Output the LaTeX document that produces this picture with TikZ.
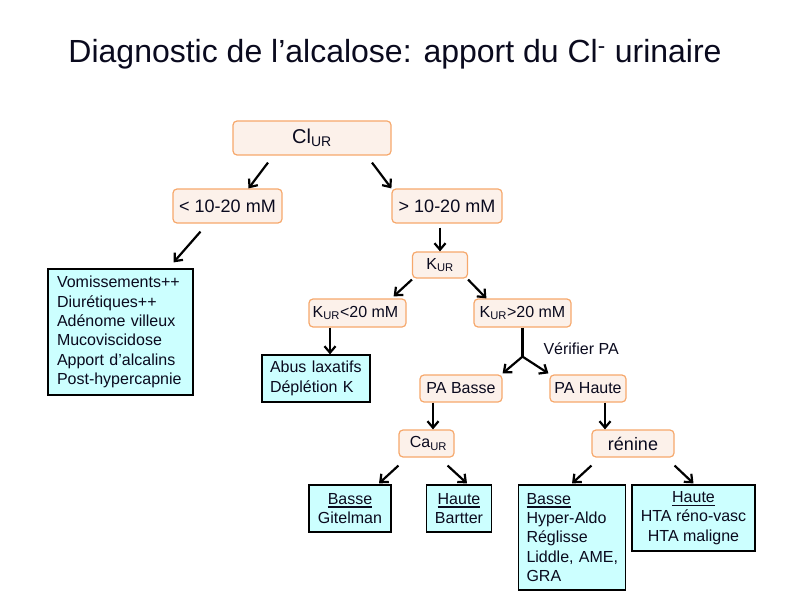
\documentclass[tikz,border=0pt]{standalone}
\usepackage{fontspec}
\setmainfont{Liberation Sans}
\usetikzlibrary{arrows.meta}
\definecolor{boxline}{HTML}{F6A86C}
\definecolor{boxfill}{HTML}{FCF1EA}
\definecolor{leaffill}{HTML}{CCFFFF}
\definecolor{ink}{HTML}{0A0A1E}
\newcommand{\ur}{\textsubscript{UR}}
% heading of an outcome box, with a heavy underline
\newcommand{\heading}[1]{\leavevmode\vtop{\hbox{#1}\kern2pt\hrule height 1.6pt}}
\begin{document}
\begin{tikzpicture}[x=1pt,y=-1pt, text=ink,
  test/.style={draw=boxline, fill=boxfill, rounded corners=4pt, line width=1.2pt,
    inner sep=0pt, font=\fontsize{16}{19}\selectfont},
  leaf/.style={draw=black, fill=leaffill, line width=1.2pt, inner sep=0pt,
    font=\fontsize{16}{19.4}\selectfont},
  arr/.style={-{Straight Barb[length=6.5pt,width=11pt]}, line width=2.2pt},
  link/.style={line width=2.2pt}]
\useasboundingbox (0,0) rectangle (805,604);

% title
\node (title) at (395,54) {\fontsize{32}{38}\selectfont Diagnostic de l’alcalose: apport du Cl\textsuperscript{-} urinaire};

% decision boxes
\node[test, minimum width=158pt, minimum height=34pt, font=\fontsize{20}{24}\selectfont] (clur) at (312,138) {Cl\ur};
\node[test, minimum width=109pt, minimum height=34pt, font=\fontsize{18}{22}\selectfont] (lt) at (227.5,206) {< 10-20 mM};
\node[test, minimum width=110pt, minimum height=34pt, font=\fontsize{18}{22}\selectfont] (gt) at (447,206) {> 10-20 mM};
\node[test, minimum width=55pt, minimum height=26pt] (kur) at (440,265) {K\ur};
\node[test, minimum width=97pt, minimum height=28pt] (kurlt) at (357.5,313) {K\ur<20 mM\hspace*{4pt}};
\node[test, minimum width=97pt, minimum height=28pt] (kurgt) at (522.5,313) {K\ur>20 mM};
\node[test, minimum width=82pt, minimum height=27pt] (pab) at (461,388.5) {PA Basse};
\node[test, minimum width=76pt, minimum height=27pt] (pah) at (588,388.5) {PA Haute};
\node[test, minimum width=55pt, minimum height=27pt] (caur) at (426.5,443.5) {\hspace*{4pt}Ca\ur};
\node[test, minimum width=82pt, minimum height=27pt, font=\fontsize{18}{22}\selectfont] (renine) at (633,443.5) {rénine};

% outcome boxes
\node[leaf, minimum width=145pt, minimum height=126pt, text width=127pt, align=left] (causes) at (120.5,332)
  {Vomissements++\\Diurétiques++\\Adénome villeux\\Mucoviscidose\\Apport d’alcalins\\Post-hypercapnie};
\node[leaf, minimum width=108pt, minimum height=47pt, text width=92pt, align=left] (abus) at (316,378.5)
  {Abus laxatifs\\Déplétion K};
\node[leaf, minimum width=82pt, minimum height=47pt, align=center] (gitelman) at (350,508.5)
  {\heading{Basse}\\Gitelman};
\node[leaf, minimum width=65pt, minimum height=47pt, align=center] (bartter) at (459,508.5)
  {\heading{Haute}\\Bartter};
\node[leaf, minimum width=107pt, minimum height=105pt, text width=91pt, align=left] (aldo) at (572,537.5)
  {\heading{Basse}\\Hyper-Aldo\\Réglisse\\Liddle,~AME,\\GRA};
\node[leaf, minimum width=123pt, minimum height=66pt, align=center] (hta) at (693.5,518)
  {\heading{Haute}\\HTA réno-vasc\\HTA maligne};

% connectors
\draw[arr] ([xshift=-44pt,yshift=-7pt]clur.south) -- ([xshift=21pt]lt.north);
\draw[arr] ([xshift=60pt,yshift=-7pt]clur.south) -- ([xshift=0pt]gt.north west);
\draw[arr] ([xshift=-27pt,yshift=-8pt]lt.south) -- ([xshift=53pt,yshift=6pt]causes.north);
\draw[arr] ([yshift=-4pt]gt.south -| kur.north) -- (kur.north);
\draw[arr] ([yshift=-1pt]kur.south west) -- ([xshift=-13pt,yshift=2pt]kurlt.north east);
\draw[arr] ([yshift=-1pt]kur.south east) -- ([xshift=13pt]kurgt.north west);
\draw[arr] ([xshift=-27.5pt]kurlt.south) -- ([xshift=-27.5pt]kurlt.south |- abus.north);

\coordinate (fork) at ([yshift=-29pt]kurgt.south);
\draw[link] (kurgt.south) -- (fork);
\draw[arr] (fork) -- ([yshift=1pt]pab.north east);
\draw[arr] (fork) -- ([yshift=1pt,xshift=-1pt]pah.north west);
\node[anchor=west, font=\fontsize{16}{19}\selectfont] (verif) at (540,349) {Vérifier PA};

\draw[arr] ([xshift=-28pt]pab.south) -- ([xshift=-28pt]pab.south |- caur.north);
\draw[arr] ([xshift=17pt]pah.south) -- ([xshift=17pt]pah.south |- renine.north);

\draw[arr] ([yshift=-8pt]caur.south west) -- ([xshift=29pt,yshift=1pt]gitelman.north);
\draw[arr] ([xshift=-7pt,yshift=-8pt]caur.south east) -- ([xshift=8pt,yshift=1pt]bartter.north);
\draw[arr] ([yshift=-8pt]renine.south west) -- ([yshift=1pt]aldo.north);
\draw[arr] ([yshift=-8pt]renine.south east) -- ([yshift=1pt]hta.north);
\end{tikzpicture}
\end{document}
